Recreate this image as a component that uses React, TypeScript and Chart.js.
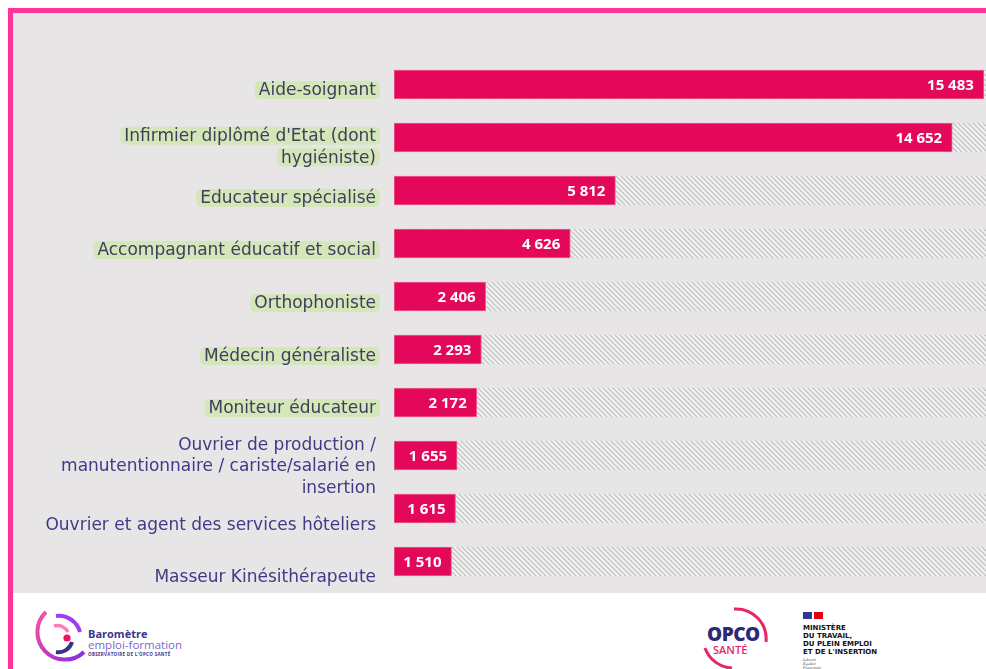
import { useEffect, useRef } from "react";
import { Chart, registerables, type ChartConfiguration, type Plugin } from "chart.js";

Chart.register(...registerables);

// métiers (les lignes de libellé sont coupées comme dans la source)
const metiers: string[][] = [
  ["Aide-soignant"],
  ["Infirmier diplômé d'Etat (dont", "hygiéniste)"],
  ["Educateur spécialisé"],
  ["Accompagnant éducatif et social"],
  ["Orthophoniste"],
  ["Médecin généraliste"],
  ["Moniteur éducateur"],
  ["Ouvrier de production /", "manutentionnaire / cariste/salarié en", "insertion"],
  ["Ouvrier et agent des services hôteliers"],
  ["Masseur Kinésithérapeute"],
];

const projets = [15483, 14652, 5812, 4626, 2406, 2293, 2172, 1655, 1615, 1510];

// les 7 premiers libellés sont surlignés en vert
const surligne = [true, true, true, true, true, true, true, false, false, false];

const echelleMax = 15540;

const PINK = "#e4085a";
const frameFont = "'DejaVu Sans', sans-serif";

function formatFr(v: number) {
  return String(v).replace(/\B(?=(\d{3})+(?!\d))/g, " ");
}

function makeHatch(): CanvasPattern | string {
  const c = document.createElement("canvas");
  c.width = 5;
  c.height = 5;
  const g = c.getContext("2d");
  if (!g) return "#dcdcdc";
  g.fillStyle = "#f0f0f0";
  g.fillRect(0, 0, 5, 5);
  g.strokeStyle = "#bcbcbc";
  g.lineWidth = 1.1;
  g.beginPath();
  g.moveTo(-1, -1);
  g.lineTo(6, 6);
  g.moveTo(-4, 1);
  g.lineTo(4, 9);
  g.moveTo(1, -4);
  g.lineTo(9, 4);
  g.stroke();
  return g.createPattern(c, "repeat") ?? "#dcdcdc";
}

// décalage vertical des libellés par rapport au centre de la barre
const labelShift = [5.5, 9, 7.5, 6.5, 6.5, 6.5, 5.5, 10.5, 16.5, 15.5];

const labelsPlugin: Plugin<"bar"> = {
  id: "labelsPlugin",
  afterDraw(chart) {
    const { ctx } = chart;
    const yScale = chart.scales.y;
    const right = chart.chartArea.left - 18;
    ctx.save();
    ctx.font = `17px ${frameFont}`;
    ctx.textAlign = "right";
    ctx.textBaseline = "middle";
    const lh = 21.5;
    metiers.forEach((lines, i) => {
      const cy = yScale.getPixelForValue(i) + labelShift[i];
      const y0 = cy - ((lines.length - 1) * lh) / 2;
      lines.forEach((line, j) => {
        const y = y0 + j * lh;
        if (surligne[i]) {
          const w = ctx.measureText(line).width;
          ctx.fillStyle = "#d3e7b9";
          ctx.beginPath();
          ctx.roundRect(right - w - 4, y - 9, w + 8, 18, 5);
          ctx.fill();
        }
        ctx.fillStyle = surligne[i] ? "#423c5e" : "#403a88";
        ctx.fillText(line, right, y + 1);
      });
    });

    // valeurs dans les barres
    const meta = chart.getDatasetMeta(1);
    ctx.font = `bold 15px 'Open Sans', sans-serif`;
    ctx.fillStyle = "#ffffff";
    meta.data.forEach((bar, i) => {
      const { x, y } = bar.getProps(["x", "y"], true) as { x: number; y: number };
      ctx.fillText(formatFr(projets[i]), x - 10, y + 1);
    });
    ctx.restore();
  },
};

function BarometreLogo() {
  return (
    <div style={{ position: "absolute", left: 20, top: 606, width: 200, height: 60 }}>
      <svg width="64" height="64" viewBox="0 0 64 64" style={{ position: "absolute", left: 6, top: 0 }}>
        <defs>
          <linearGradient id="gb" x1="0" y1="0" x2="1" y2="1">
            <stop offset="0" stopColor="#ff4fa0" />
            <stop offset="1" stopColor="#8a2be2" />
          </linearGradient>
        </defs>
        <path d="M 20 6 A 27 27 0 1 0 58 46" stroke="url(#gb)" strokeWidth="4" fill="none" />
        <path d="M 30 10 A 22 22 0 0 1 54 26" stroke="#9b3df0" strokeWidth="4" fill="none" />
        <path d="M 28 20 A 12 12 0 0 1 42 26" stroke="#ff7ab8" strokeWidth="3.5" fill="none" />
        <path d="M 46 36 A 14 14 0 0 1 30 46" stroke="#3b2f8a" strokeWidth="4" fill="none" />
        <circle cx="41" cy="32" r="3.6" fill="#ee1160" />
      </svg>
      <div style={{ position: "absolute", left: 68, top: 22, fontFamily: "'Open Sans', sans-serif", lineHeight: 1 }}>
        <div style={{ fontSize: 11, fontWeight: 700, color: "#3b3488" }}>Baromètre</div>
        <div style={{ fontSize: 11.5, color: "#7b66c9", marginTop: 0 }}>emploi-formation</div>
        <div style={{ fontSize: 4.5, color: "#3b3488", fontWeight: 700, marginTop: 1, letterSpacing: 0.3 }}>
          OBSERVATOIRE DE L'OPCO SANTÉ
        </div>
      </div>
    </div>
  );
}

function OpcoLogo() {
  return (
    <div style={{ position: "absolute", left: 700, top: 606, width: 80, height: 63 }}>
      <svg width="80" height="63" viewBox="0 0 80 63" style={{ position: "absolute", left: 0, top: 0 }}>
        <path d="M 34 3 A 30 30 0 0 1 66 36" stroke="#e8246e" strokeWidth="3" fill="none" />
        <path d="M 5 42 A 30 30 0 0 0 32 62" stroke="#e8246e" strokeWidth="3" fill="none" />
      </svg>
      <div
        style={{
          position: "absolute",
          left: 7,
          top: 19,
          fontFamily: "'Open Sans', sans-serif",
          fontWeight: 800,
          fontSize: 19,
          color: "#2d2878",
          lineHeight: 1,
          letterSpacing: -0.5,
        }}
      >
        OPCO
      </div>
      <div
        style={{
          position: "absolute",
          left: 13,
          top: 38,
          fontFamily: "'Open Sans', sans-serif",
          fontWeight: 600,
          fontSize: 11,
          color: "#e8246e",
          lineHeight: 1,
        }}
      >
        SANTÉ
      </div>
    </div>
  );
}

function MinistereLogo() {
  return (
    <div style={{ position: "absolute", left: 803, top: 612, width: 90, height: 57 }}>
      <div style={{ position: "absolute", left: 0, top: 0, width: 9, height: 7, background: "#2b3a8f" }} />
      <div style={{ position: "absolute", left: 11, top: 0, width: 9, height: 7, background: "#e1000f" }} />
      <div
        style={{
          position: "absolute",
          left: 0,
          top: 12,
          fontFamily: "'DejaVu Sans', sans-serif",
          fontWeight: 700,
          fontSize: 7,
          lineHeight: "8px",
          color: "#111",
          whiteSpace: "nowrap",
        }}
      >
        MINISTÈRE
        <br />
        DU TRAVAIL,
        <br />
        DU PLEIN EMPLOI
        <br />
        ET DE L'INSERTION
      </div>
      <div
        style={{
          position: "absolute",
          left: 0,
          top: 46,
          fontFamily: "'DejaVu Serif', serif",
          fontStyle: "italic",
          fontSize: 3.5,
          lineHeight: "4px",
          color: "#333",
        }}
      >
        Liberté
        <br />
        Égalité
        <br />
        Fraternité
      </div>
    </div>
  );
}

export default function App() {
  const canvasRef = useRef<HTMLCanvasElement | null>(null);
  const chartRef = useRef<Chart<"bar"> | null>(null);

  useEffect(() => {
    if (!canvasRef.current) return;
    const hatch = makeHatch();

    const config: ChartConfiguration<"bar"> = {
      type: "bar",
      data: {
        labels: metiers.map((l) => l.join(" ")),
        datasets: [
          {
            label: "fond",
            data: projets.map(() => echelleMax),
            backgroundColor: hatch as any,
            borderWidth: 0,
            barThickness: 29,
            grouped: false,
            order: 2,
          },
          {
            label: "Projets de recrutement",
            data: projets,
            backgroundColor: PINK,
            borderColor: "#ef5f8f",
            borderWidth: 1,
            borderSkipped: false,
            barThickness: 29,
            grouped: false,
            order: 1,
          },
        ],
      },
      options: {
        indexAxis: "y",
        responsive: false,
        animation: false,
        layout: { padding: { left: 381, top: 45, bottom: 5, right: 0 } },
        plugins: {
          legend: { display: false },
          tooltip: { enabled: false },
        },
        scales: {
          x: { display: false, min: 0, max: echelleMax },
          y: { display: false },
        },
      },
      plugins: [labelsPlugin],
    };

    chartRef.current?.destroy();
    chartRef.current = new Chart(canvasRef.current, config);
    return () => {
      chartRef.current?.destroy();
      chartRef.current = null;
    };
  }, []);

  return (
    <div
      style={{
        position: "absolute",
        left: 0,
        top: 0,
        width: 986,
        height: 669,
        overflow: "hidden",
        background: "#ffffff",
      }}
    >
      <div
        style={{
          position: "absolute",
          left: 8,
          top: 8,
          width: 978,
          height: 661,
          boxSizing: "border-box",
          borderTop: "5px solid #ff3399",
          borderLeft: "5px solid #ff3399",
        }}
      />
      <div style={{ position: "absolute", left: 13, top: 13, width: 973, height: 580, background: "#e7e5e6" }}>
        <canvas ref={canvasRef} width={973} height={580} style={{ display: "block" }} />
      </div>
      <BarometreLogo />
      <OpcoLogo />
      <MinistereLogo />
    </div>
  );
}
